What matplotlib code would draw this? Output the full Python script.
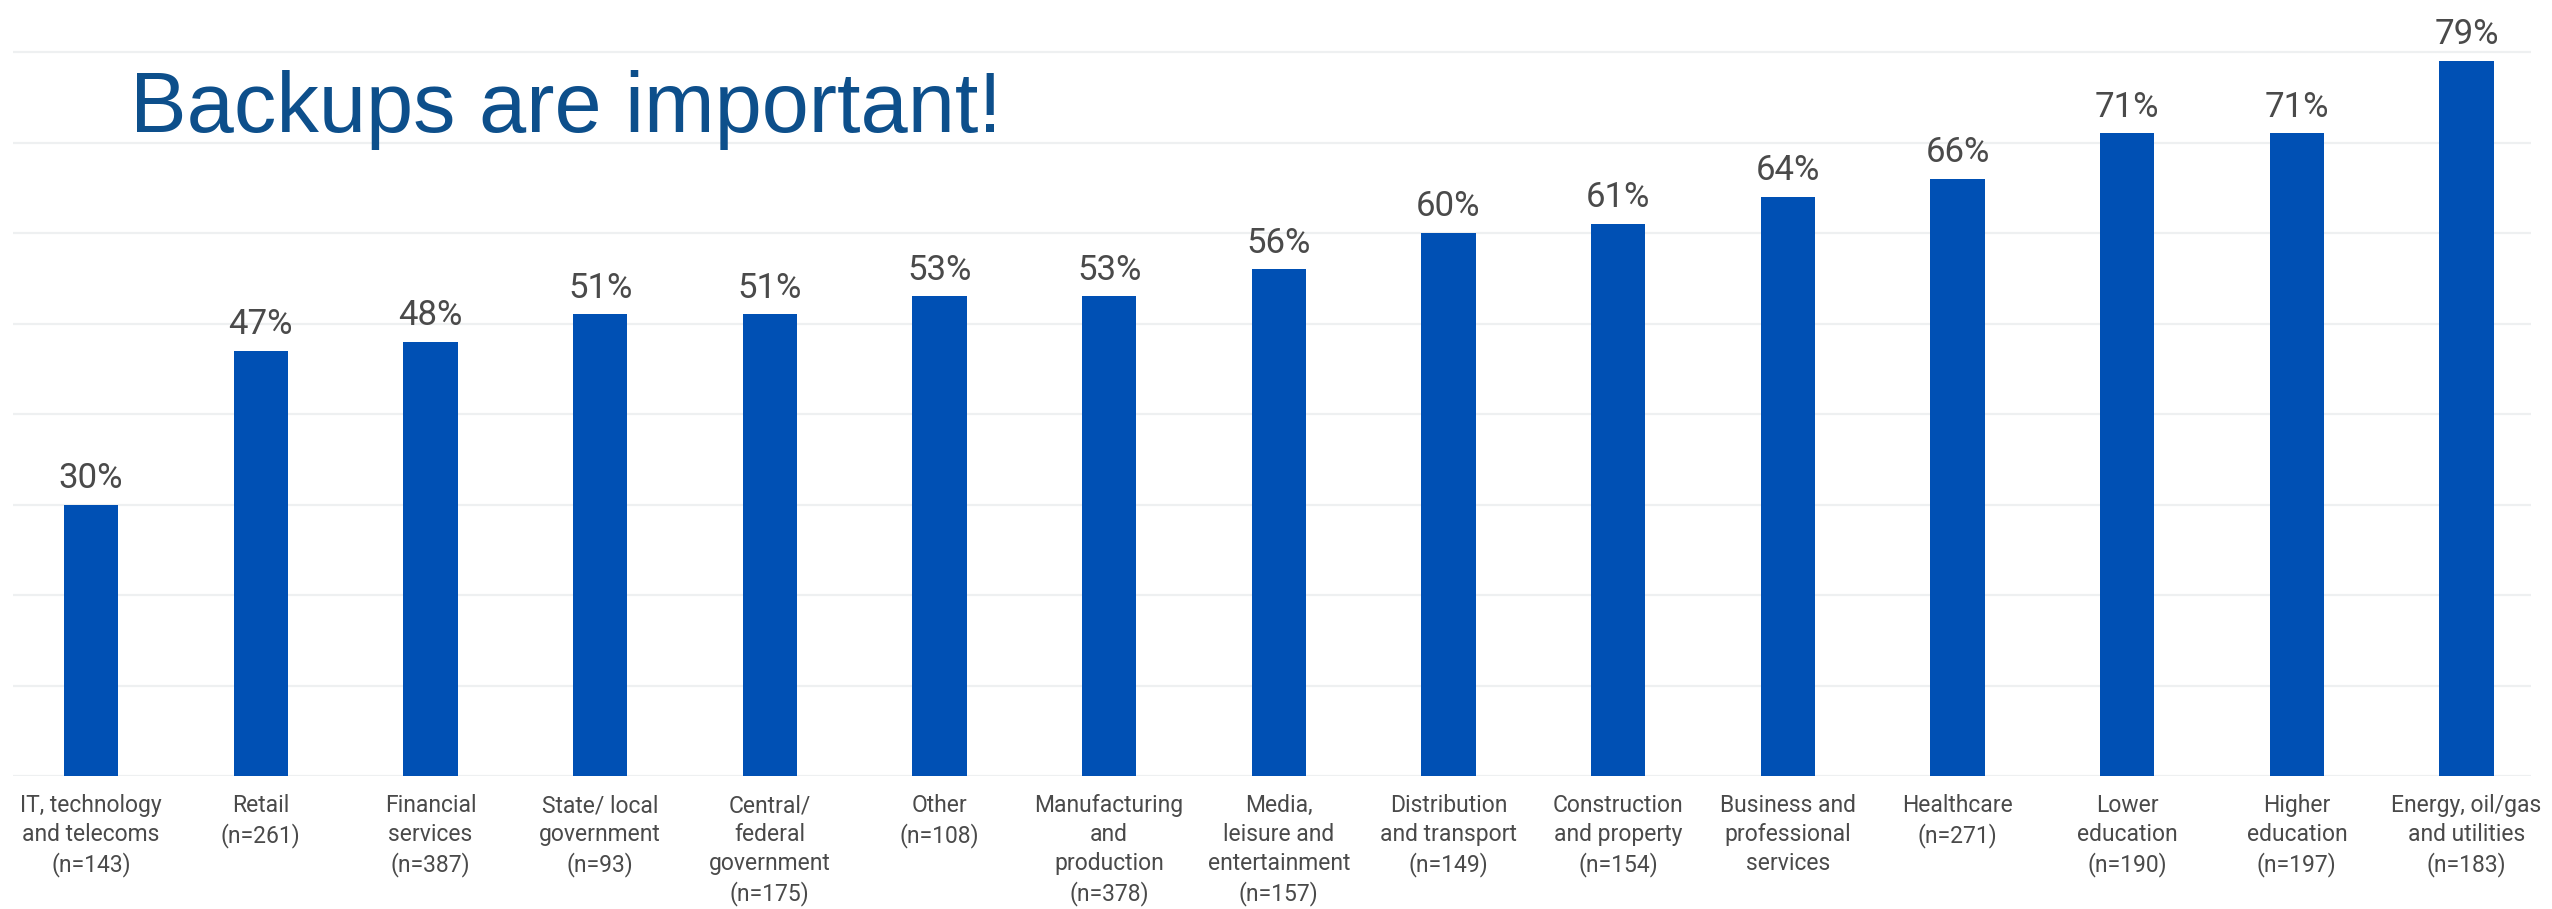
import matplotlib
matplotlib.use("Agg")
import matplotlib.pyplot as plt
import numpy as np

# Share of organisations per sector (percent)
sectors = [
    "IT, technology\nand telecoms",
    "Retail",
    "Financial\nservices",
    "State/ local\ngovernment",
    "Central/\nfederal\ngovernment",
    "Other",
    "Manufacturing\nand\nproduction",
    "Media,\nleisure and\nentertainment",
    "Distribution\nand transport",
    "Construction\nand property",
    "Business and\nprofessional\nservices",
    "Healthcare",
    "Lower\neducation",
    "Higher\neducation",
    "Energy, oil/gas\nand utilities",
]
sample_sizes = [143, 261, 387, 93, 175, 108, 378, 157, 149, 154, None, 271, 190, 197, 183]
percentages = [30, 47, 48, 51, 51, 53, 53, 56, 60, 61, 64, 66, 71, 71, 79]
gridlines = [0, 10, 20, 30, 40, 50, 60, 70, 80]

W, H, DPI = 2552, 909, 100
BAR_COLOR = "#0050B4"
TEXT_COLOR = "#4a4a4a"
TITLE_COLOR = "#0D4F8B"
GRID_COLOR = "#eef0f1"

labels = [s if n is None else f"{s}\n(n={n})" for s, n in zip(sectors, sample_sizes)]

fig = plt.figure(figsize=(W / DPI, H / DPI), dpi=DPI)
ax = fig.add_axes([13 / W, 133 / H, (2531 - 13) / W, 776 / H])

x = np.arange(len(percentages))
ax.set_xlim(-0.46, len(percentages) - 1 + 0.38)
ax.set_ylim(0, 85.75)

for g in gridlines:
    ax.axhline(g, color=GRID_COLOR, lw=1.6, zorder=0)

bars = ax.bar(x, percentages, width=0.32, color=BAR_COLOR, zorder=2)

for xi, v in zip(x, percentages):
    ax.annotate(f"{v}%", xy=(xi, v), xytext=(0, 12), textcoords="offset points",
                ha="center", va="baseline", fontsize=25, color=TEXT_COLOR,
                family="Roboto")

ax.set_xticks(x)
ax.set_xticklabels(labels, fontsize=16.5, color=TEXT_COLOR, family="Roboto",
                   linespacing=1.33, va="top")
ax.tick_params(axis="x", length=0, pad=13)
ax.set_yticks([])
for sp in ax.spines.values():
    sp.set_visible(False)

fig.text(130 / W, 1 - 132 / H, "Backups are important!", fontsize=61,
         color=TITLE_COLOR, family="Liberation Sans", ha="left", va="baseline")

fig.savefig("out.png", dpi=DPI, facecolor="white")
